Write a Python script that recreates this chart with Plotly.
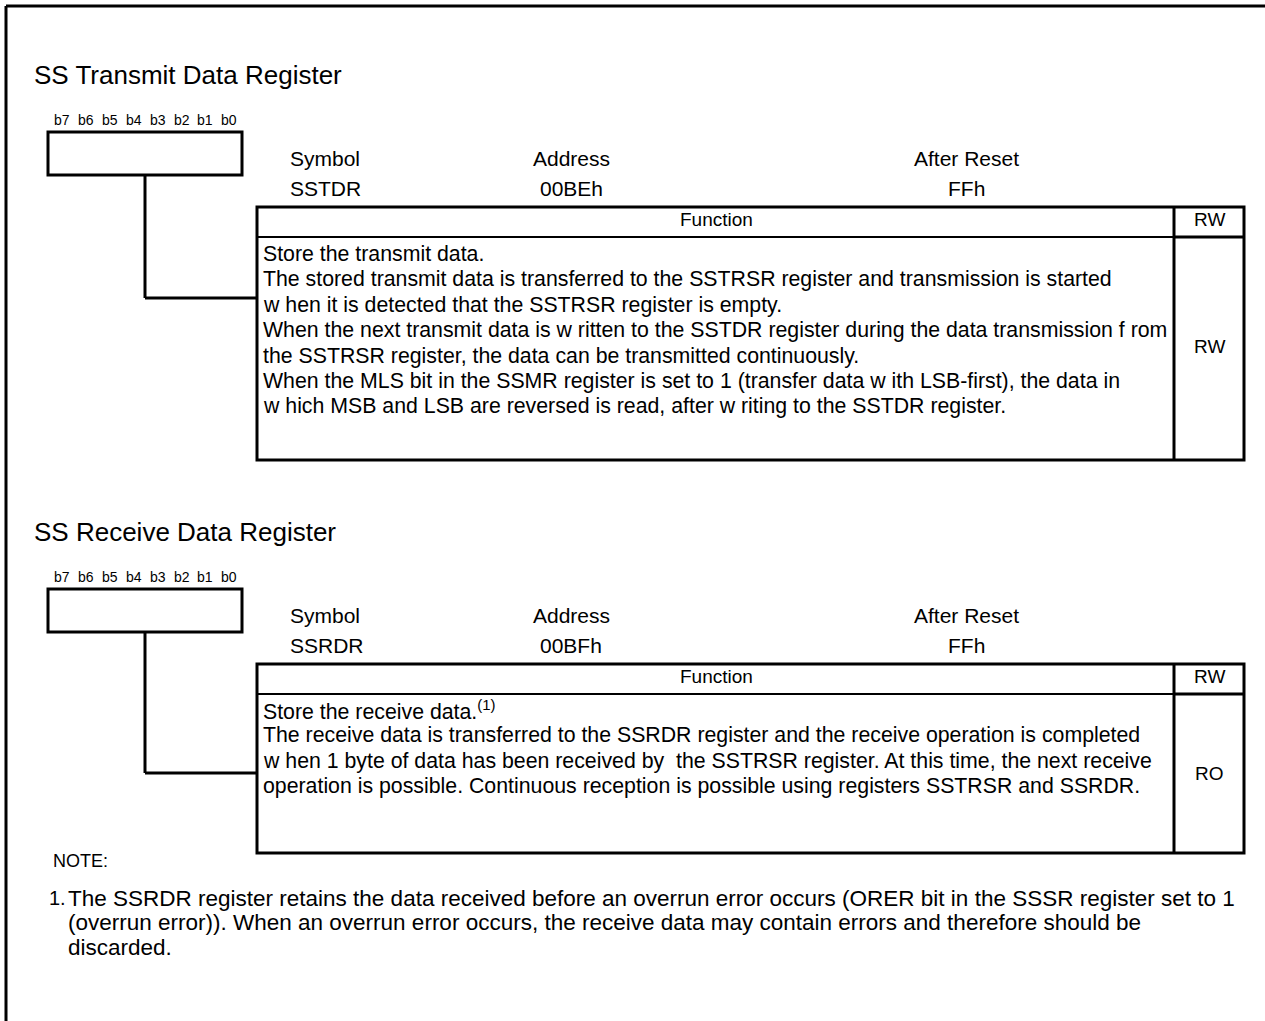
import plotly.graph_objects as go

W, H = 1265, 1021
FONT = "Liberation Sans, Arial, sans-serif"

# ---- content ----
bit_labels = ["b7", "b6", "b5", "b4", "b3", "b2", "b1", "b0"]
header_labels = ["Symbol", "Address", "After Reset"]

reg1_title = "SS Transmit Data Register"
reg1_values = ["SSTDR", "00BEh", "FFh"]
reg1_lines = [
    "Store the transmit data.",
    "The stored transmit data is transferred to the SSTRSR register and transmission is started",
    "w hen it is detected that the SSTRSR register is empty.",
    "When the next transmit data is w ritten to the SSTDR register during the data transmission f rom",
    "the SSTRSR register, the data can be transmitted continuously.",
    "When the MLS bit in the SSMR register is set to 1 (transfer data w ith LSB-first), the data in",
    "w hich MSB and LSB are reversed is read, after w riting to the SSTDR register.",
]
reg1_rw = "RW"

reg2_title = "SS Receive Data Register"
reg2_values = ["SSRDR", "00BFh", "FFh"]
reg2_lines = [
    "Store the receive data.<sup>(1)</sup>",
    "The receive data is transferred to the SSRDR register and the receive operation is completed",
    "w hen 1 byte of data has been received by  the SSTRSR register. At this time, the next receive",
    "operation is possible. Continuous reception is possible using registers SSTRSR and SSRDR.",
]
reg2_rw = "RO"

note_title = "NOTE:"
note_number = "1."
note_lines = [
    "The SSRDR register retains the data received before an overrun error occurs (ORER bit in the SSSR register set to 1",
    "(overrun error)). When an overrun error occurs, the receive data may contain errors and therefore should be",
    "discarded.",
]

fig = go.Figure()
shapes = []
annotations = []


def line(x0, y0, x1, y1, w=3):
    shapes.append(dict(type="line", x0=x0, y0=y0, x1=x1, y1=y1,
                       line=dict(color="black", width=w), xref="x", yref="y"))


def rect(x0, y0, x1, y1, w=3):
    shapes.append(dict(type="rect", x0=x0, y0=y0, x1=x1, y1=y1,
                       line=dict(color="black", width=w), fillcolor="rgba(0,0,0,0)",
                       xref="x", yref="y"))


def text(x, y, s, size, anchor="left"):
    annotations.append(dict(x=x, y=y, text=s, showarrow=False, xanchor=anchor,
                            yanchor="middle", xref="x", yref="y",
                            font=dict(family=FONT, size=size, color="black")))


# outer frame (top and left)
line(6, 6, W, 6, 3)
line(6, 6, 6, H, 3)


def register(y_off, title, values, lines, rw, table_bottom, line_y0, rw_y):
    text(32, 75 + y_off, title, 26)
    for i, b in enumerate(bit_labels):
        text(62 + i * 23.9, 120 + y_off, b, 14, "center")
    rect(48, 132 + y_off, 242, 175 + y_off, 3)
    # labels
    text(288, 158 + y_off, header_labels[0], 21)
    text(571, 158 + y_off, header_labels[1], 21, "center")
    text(966, 158 + y_off, header_labels[2], 21, "center")
    text(288, 188 + y_off, values[0], 21)
    text(571, 188 + y_off, values[1], 21, "center")
    text(966, 188 + y_off, values[2], 21, "center")
    # table
    top = 207 + y_off
    hdr = 237 + y_off
    rect(257, top, 1244, table_bottom, 3)
    line(257, hdr, 1174, hdr, 2)
    line(1174, hdr, 1244, hdr, 3)
    line(1174, top, 1174, table_bottom, 3)
    text(716, 219 + y_off, "Function", 19, "center")
    text(1209, 219 + y_off, "RW", 19, "center")
    for i, s in enumerate(lines):
        text(261, line_y0 + i * 25.4, s, 21.3)
    text(1209, rw_y, rw, 19, "center")


# register 1
register(0, reg1_title, reg1_values, reg1_lines, reg1_rw, 460, 254, 346)
line(145, 175, 145, 298, 3)
line(145, 298, 257, 298, 3)

# register 2
off = 457
register(off, reg2_title, reg2_values, reg2_lines, reg2_rw, 853, 710, 773)
line(145, 175 + off, 145, 773, 3)
line(145, 773, 257, 773, 3)

# note
text(51, 861, note_title, 18)
text(47, 898, note_number, 20)
for i, s in enumerate(note_lines):
    text(66, 898 + i * 24.8, s, 22.5)

fig.update_layout(
    width=W, height=H,
    margin=dict(l=0, r=0, t=0, b=0),
    paper_bgcolor="white", plot_bgcolor="white",
    xaxis=dict(range=[0, W], visible=False, fixedrange=True),
    yaxis=dict(range=[H, 0], visible=False, fixedrange=True),
    shapes=shapes, annotations=annotations, showlegend=False,
)
fig.write_html("out.html", config={"displayModeBar": False},
               post_script="document.body.style.margin='0px';document.body.style.overflow='hidden';")
